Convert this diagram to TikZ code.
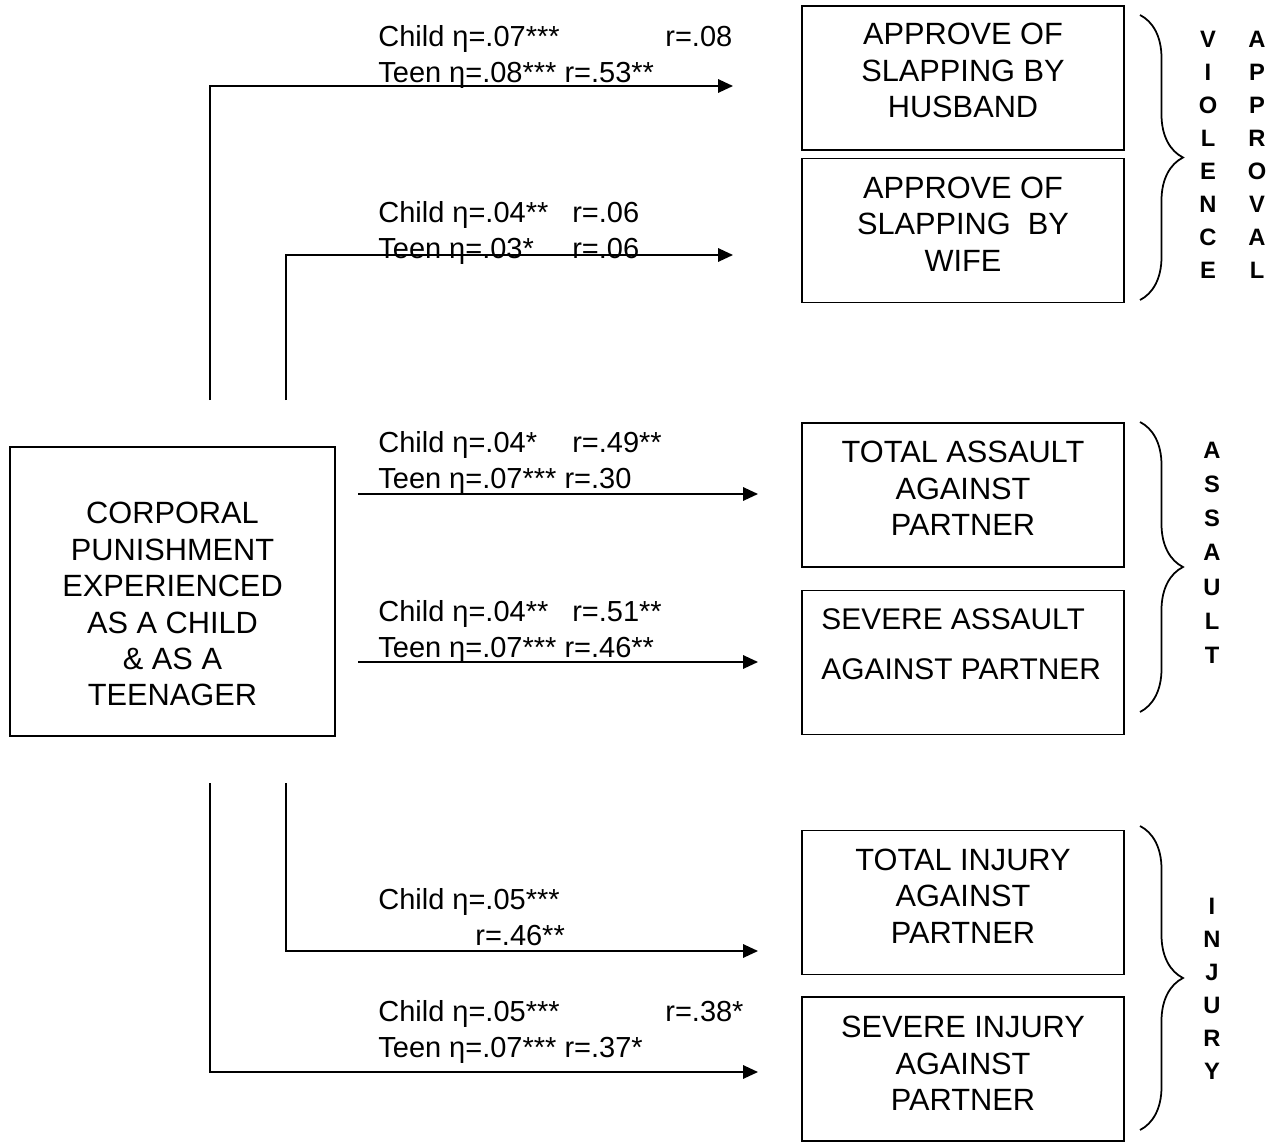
\documentclass[tikz,border=0pt]{standalone}
\usepackage{fontspec}
\setmainfont{Liberation Sans}[BoldFont={Liberation Sans Bold}]
\usetikzlibrary{arrows.meta,positioning,decorations.pathreplacing}
\tikzset{
  arc/.style = {
    -{Triangle[length=0.3cm,width=0.27cm]},
    line width=1pt
  },
  outcome/.style = {
    draw,
    line width=1pt,
    minimum width=6.44cm,
    minimum height=2.88cm
  },
  boxtext/.style = {
    inner sep=0pt,
    align=center,
    font=\fontsize{17.5}{20.7}\selectfont
  },
  stat/.style = {
    anchor=north west,
    inner sep=0pt,
    align=left,
    font=\fontsize{16.5}{20.4}\selectfont
  },
  grplabel/.style = {
    anchor=north,
    inner sep=0pt,
    align=center,
    font=\bfseries\fontsize{13.5}{18.8}\selectfont
  },
  grpbrace/.style = {
    decorate,
    line width=1pt,
    decoration={brace, amplitude=0.86cm}
  }
}
\begin{document}
\begin{tikzpicture}
    \useasboundingbox (0,0) rectangle (25.42,-22.86);

    % source box
    \node[draw, line width=1pt, minimum width=6.5cm, minimum height=5.78cm] (cp) at (3.45,-11.83) {};
    \node[boxtext, below=1.12cm of cp.north] (cptext) {CORPORAL\\PUNISHMENT\\EXPERIENCED\\AS A CHILD\\\& AS A\\TEENAGER};

    % outcome boxes
    \node[outcome] (hus)  at (19.26,-1.56)  {};
    \node[outcome] (wife) at (19.26,-4.61)  {};
    \node[outcome] (tass) at (19.26,-9.9)   {};
    \node[outcome] (sass) at (19.26,-13.25) {};
    \node[outcome] (tinj) at (19.26,-18.05) {};
    \node[outcome] (sinj) at (19.26,-21.38) {};

    \node[boxtext, below=0.36cm of hus.north]  (hustext)  {APPROVE OF\\SLAPPING BY\\HUSBAND};
    \node[boxtext, below=0.38cm of wife.north] (wifetext) {APPROVE OF\\SLAPPING \ BY\\WIFE};
    \node[boxtext, below=0.38cm of tass.north] (tasstext) {TOTAL ASSAULT\\AGAINST\\PARTNER};
    \node[boxtext, align=left, anchor=north west, font=\fontsize{17}{20.7}\selectfont,
          below right=0.38cm and 0.4cm of sass.north west] (sasstext) {SEVERE ASSAULT\\[0.27cm]AGAINST PARTNER};
    \node[boxtext, below=0.38cm of tinj.north] (tinjtext) {TOTAL INJURY\\AGAINST\\PARTNER};
    \node[boxtext, below=0.4cm of sinj.north]  (sinjtext) {SEVERE INJURY\\AGAINST\\PARTNER};

    % path coefficients
    \node[stat] (s1) at (7.56,-0.5)   {\makebox[5.74cm][l]{Child η=.07***}r=.08\\Teen η=.08*** r=.53**};
    \node[stat] (s2) at (7.56,-4.02)  {\makebox[3.88cm][l]{Child η=.04**}r=.06\\\makebox[3.88cm][l]{Teen η=.03*}r=.06};
    \node[stat] (s3) at (7.56,-8.62)  {\makebox[3.88cm][l]{Child η=.04*}r=.49**\\Teen η=.07*** r=.30};
    \node[stat] (s4) at (7.56,-12.0)  {\makebox[3.88cm][l]{Child η=.04**}r=.51**\\Teen η=.07*** r=.46**};
    \node[stat] (s5) at (7.56,-17.76) {Child η=.05***\\\hspace*{1.94cm}r=.46**};
    \node[stat] (s6) at (7.56,-20.0)  {\makebox[5.74cm][l]{Child η=.05***}r=.38*\\Teen η=.07*** r=.37*};

    % arrow ends
    \coordinate (a1s) at (4.2,-8.0);
    \coordinate (a1e) at (14.66,-1.72);
    \coordinate (a2s) at (5.72,-8.0);
    \coordinate (a2e) at (14.66,-5.1);
    \coordinate (a3s) at (7.16,-9.88);
    \coordinate (a3e) at (15.16,-9.88);
    \coordinate (a4s) at (7.16,-13.24);
    \coordinate (a4e) at (15.16,-13.24);
    \coordinate (a5s) at (5.72,-15.66);
    \coordinate (a5e) at (15.16,-19.02);
    \coordinate (a6s) at (4.2,-15.66);
    \coordinate (a6e) at (15.16,-21.44);

    \draw[arc] (a1s) |- (a1e);
    \draw[arc] (a2s) |- (a2e);
    \draw[arc] (a3s) -- (a3e);
    \draw[arc] (a4s) -- (a4e);
    \draw[arc] (a5s) |- (a5e);
    \draw[arc] (a6s) |- (a6e);

    % groups
    \coordinate (b1t) at (22.8,-0.3);
    \coordinate (b1b) at (22.8,-6.0);
    \coordinate (b2t) at (22.8,-8.44);
    \coordinate (b2b) at (22.8,-14.24);
    \coordinate (b3t) at (22.8,-16.52);
    \coordinate (b3b) at (22.8,-22.6);
    \draw[grpbrace] (b1t) -- (b1b);
    \draw[grpbrace] (b2t) -- (b2b);
    \draw[grpbrace] (b3t) -- (b3b);

    \node[grplabel] (viol)  at (24.16,-0.62) {V\\I\\O\\L\\E\\N\\C\\E};
    \node[grplabel] (appr)  at (25.14,-0.62) {A\\P\\P\\R\\O\\V\\A\\L};
    \node[grplabel, font=\bfseries\fontsize{13.5}{19.4}\selectfont] (asslt) at (24.24,-8.84) {A\\S\\S\\A\\U\\L\\T};
    \node[grplabel] (injry) at (24.24,-17.95) {I\\N\\J\\U\\R\\Y};
\end{tikzpicture}
\end{document}
